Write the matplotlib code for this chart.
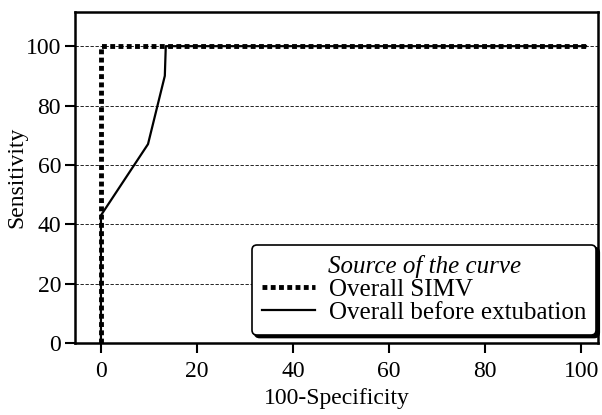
import matplotlib.pyplot as plt

plt.rcParams['font.family'] = ['Liberation Serif', 'DejaVu Serif']

simv_x = [0, 0, 101]
simv_y = [0, 100, 100]

before_x = [0, 0, 9.8, 13.3, 13.5, 101]
before_y = [0, 43, 67, 90, 100, 100]

xticks = [0, 20, 40, 60, 80, 100]
yticks = [0, 20, 40, 60, 80, 100]

fig = plt.figure(figsize=(6.02, 4.15), dpi=100)
ax = fig.add_axes([0.1246, 0.1735, 0.8688, 0.7975])

for y in yticks[1:]:
    ax.axhline(y, color='black', lw=0.6, ls=(0, (4, 2)), zorder=1)

ax.plot(simv_x, simv_y, color='black', lw=3.5, ls=(0, (1, 0.7)), label='Overall SIMV', zorder=3)
ax.plot(before_x, before_y, color='black', lw=1.6, label='Overall before extubation', zorder=3)

ax.set_xlim(-5.4, 103.5)
ax.set_ylim(0, 111.5)
ax.set_xticks(xticks)
ax.set_yticks(yticks)
ax.tick_params(labelsize=17, width=1.5, length=7, pad=3)
ax.tick_params(axis='x', pad=6)
for s in ax.spines.values():
    s.set_linewidth(1.8)

ax.set_xlabel('100-Specificity', fontsize=17, labelpad=4)
ax.set_ylabel('Sensitivity', fontsize=17, labelpad=-1)

leg = ax.legend(title='Source of the curve', loc='lower right', fontsize=18,
                title_fontsize=18, fancybox=True, framealpha=1,
                edgecolor='black', shadow={'color': 'black', 'alpha': 1},
                handlelength=2.1, borderpad=0.42, labelspacing=0.02,
                handletextpad=0.55, borderaxespad=0,
                bbox_to_anchor=(0.997, 0.025))
leg.get_title().set_fontstyle('italic')
leg.get_frame().set_linewidth(1.2)

fig.savefig('out.png', dpi=100)
